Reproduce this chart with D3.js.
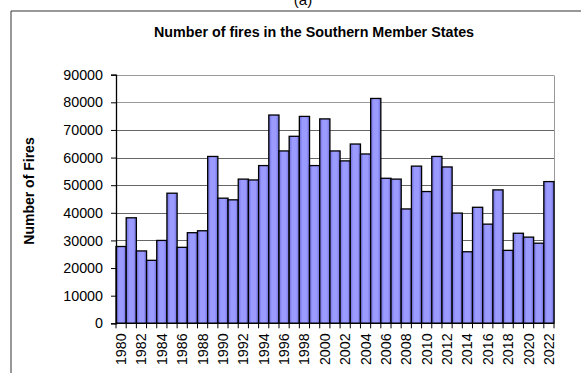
<!DOCTYPE html>
<html><head><meta charset="utf-8">
<script src="https://cdn.jsdelivr.net/npm/d3@7"></script>
<style>body{margin:0;background:#fff;}svg{display:block;font-family:Arial,"Liberation Sans",sans-serif;}</style>
</head><body>
<svg id="c" width="581" height="373"></svg>
<script>
const years = d3.range(1980, 2023);
const fires = [27800, 38200, 26200, 22800, 30000, 47100, 27500, 32800, 33500, 60400,
  45300, 44700, 52200, 51900, 57100, 75400, 62400, 67700, 74900, 57100,
  74000, 62400, 58800, 64900, 61300, 81400, 52500, 52200, 41400, 56900,
  47700, 60400, 56600, 39900, 25900, 42000, 35900, 48300, 26400, 32600,
  31200, 29000, 51300];
const yTicks = [0, 10000, 20000, 30000, 40000, 50000, 60000, 70000, 80000, 90000];
const title = "Number of fires in the Southern Member States";
const yTitle = "Number of Fires";

const svg = d3.select("#c");
const m = {l: 116, r: 554, t: 74.7, b: 323.3};

const defs = svg.append("defs");
const g = defs.append("linearGradient").attr("id", "bg").attr("x1", 0).attr("x2", 1).attr("y1", 0).attr("y2", 0);
[[0, "#6b6bd6"], [0.3, "#9a9aff"], [0.7, "#9a9aff"], [1, "#6b6bd6"]].forEach(([o, c]) =>
  g.append("stop").attr("offset", o).attr("stop-color", c));

// outer frame
svg.append("path").attr("d", "M11,373V11H581").attr("fill", "none").attr("stroke", "#333").attr("stroke-width", 1);

svg.append("text").attr("x", 303).attr("y", 5).attr("text-anchor", "middle").attr("font-size", 15).text("(a)");
svg.append("text").attr("x", 314).attr("y", 37).attr("text-anchor", "middle").attr("font-size", 14.3).attr("font-weight", "bold").text(title);

const x = d3.scaleBand().domain(years).range([m.l, m.r]).padding(0);
const y = d3.scaleLinear().domain([0, 90000]).range([m.b, m.t]);

// gridlines
svg.append("g").selectAll("line").data(yTicks.filter(d => d > 0)).join("line")
  .attr("x1", m.l).attr("x2", m.r).attr("y1", d => Math.round(y(d)) + 0.5).attr("y2", d => Math.round(y(d)) + 0.5)
  .attr("stroke", d => d >= 80000 ? "#999" : "#666").attr("stroke-width", 1);
// right border
svg.append("line").attr("x1", m.r + 0.5).attr("x2", m.r + 0.5).attr("y1", Math.round(y(90000)) + 0.5).attr("y2", m.b)
  .attr("stroke", "#999");

// bars
svg.append("g").selectAll("rect").data(years).join("rect")
  .attr("x", d => x(d)).attr("width", x.bandwidth())
  .attr("y", (d, i) => y(fires[i])).attr("height", (d, i) => y(0) - y(fires[i]))
  .attr("fill", "url(#bg)").attr("stroke", "#000").attr("stroke-width", 1.3);

// y axis
const ya = svg.append("g").attr("transform", `translate(${m.l},0)`)
  .call(d3.axisLeft(y).tickValues(yTicks).tickSize(5).tickPadding(8).tickFormat(d3.format("d")));
ya.select(".domain").attr("stroke", "#000").attr("stroke-width", 1.3);
ya.selectAll(".tick line").attr("stroke", "#000");
ya.selectAll("text").attr("font-size", 14.3).attr("font-family", "Arial,'Liberation Sans',sans-serif").attr("fill", "#000");

// x axis: ticks at band boundaries
const xa = svg.append("g").attr("transform", `translate(0,${m.b})`);
xa.append("line").attr("x1", m.l).attr("x2", m.r).attr("stroke", "#000").attr("stroke-width", 1.3);
xa.selectAll("line.t").data(years.concat([2023])).join("line").attr("class", "t")
  .attr("x1", d => d === 2023 ? m.r : x(d)).attr("x2", d => d === 2023 ? m.r : x(d)).attr("y1", 0).attr("y2", 5).attr("stroke", "#000");
xa.selectAll("text").data(years.filter(d => d % 2 === 0)).join("text")
  .attr("transform", d => `translate(${x(d) + x.bandwidth() / 2 + 5},10) rotate(-90)`)
  .attr("text-anchor", "end").attr("font-size", 14.3).text(d => d);

svg.append("text").attr("transform", "translate(34,191) rotate(-90)").attr("text-anchor", "middle")
  .attr("font-size", 14).attr("font-weight", "bold").text(yTitle);
</script>
</body></html>
